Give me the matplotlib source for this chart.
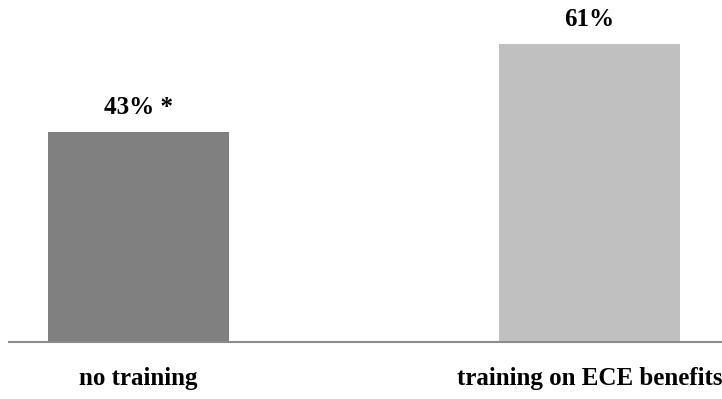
import matplotlib.pyplot as plt

categories = ['no training', 'training on ECE benefits']
values = [43, 61]
value_labels = ['43% *', '61%']
colors = ['#808080', '#c0c0c0']

plt.rcParams['font.family'] = ['Liberation Serif', 'DejaVu Serif']

fig = plt.figure(figsize=(7.22, 3.99), dpi=100)
# axes placed so the baseline runs from the left margin to the right edge
ax = fig.add_axes([9 / 722, 57 / 399, 713 / 722, 342 / 399])

x = range(len(categories))
bars = ax.bar(x, values, width=0.4, color=colors)

for bar, lab in zip(bars, value_labels):
    ax.annotate(lab, (bar.get_x() + bar.get_width() / 2, bar.get_height()),
                xytext=(0, 9), textcoords='offset points',
                ha='center', va='bottom', fontsize=18, fontweight='bold')

ax.set_xlim(-0.287, 1.294)
ax.set_ylim(0, 70)
ax.set_xticks(list(x))
ax.set_xticklabels(categories, fontsize=18, fontweight='bold')
ax.tick_params(axis='x', length=0, pad=18)
ax.set_yticks([])

for side in ['top', 'right', 'left']:
    ax.spines[side].set_visible(False)
ax.spines['bottom'].set_color('#8c8c8c')
ax.spines['bottom'].set_linewidth(1.5)

fig.savefig('out.png', dpi=100)
